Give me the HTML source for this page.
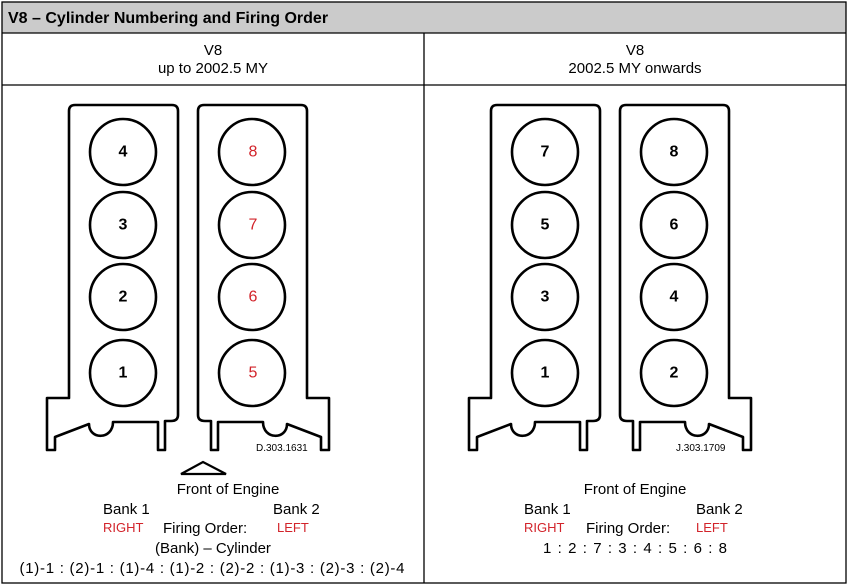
<!DOCTYPE html>
<html><head><meta charset="utf-8"><style>
html,body{margin:0;padding:0;background:#fff;}
svg{display:block;}
text{font-family:"Liberation Sans",sans-serif;}
</style></head><body>
<svg width="850" height="588" viewBox="0 0 850 588" xmlns="http://www.w3.org/2000/svg">
<defs>
<path id="bank" d="M69,398 L69,111 Q69,105 75,105 L172,105 Q178,105 178,111 L178,415 Q178,421 171,421 L165,421 L165,450 L158,450 L158,422 L113,422 C113,440 89,440 89,424 L55,437 L55,450 L47,450 L47,398 Z" fill="none" stroke="#000" stroke-width="2.6" stroke-linejoin="round"/>
<g id="engine">
<use href="#bank"/>
<use href="#bank" transform="translate(376,0) scale(-1,1)"/>
<g fill="none" stroke="#000" stroke-width="2.6">
<circle cx="123" cy="152" r="33"/><circle cx="123" cy="225" r="33"/><circle cx="123" cy="297" r="33"/><circle cx="123" cy="373" r="33"/>
<circle cx="252" cy="152" r="33"/><circle cx="252" cy="225" r="33"/><circle cx="252" cy="297" r="33"/><circle cx="252" cy="373" r="33"/>
</g>
</g>
</defs>
<rect x="2" y="2" width="844" height="31" fill="#cbcbcb"/>
<g stroke="#000" stroke-width="1.3" fill="none">
<rect x="2" y="2" width="844" height="581"/>
<line x1="2" y1="33" x2="846" y2="33"/>
<line x1="2" y1="85" x2="846" y2="85"/>
<line x1="424" y1="33" x2="424" y2="583"/>
</g>
<text x="8" y="23" font-size="16" font-weight="bold">V8 – Cylinder Numbering and Firing Order</text>
<g font-size="15" text-anchor="middle">
<text x="213" y="55">V8</text><text x="213" y="73">up to 2002.5 MY</text>
<text x="635" y="55">V8</text><text x="635" y="73">2002.5 MY onwards</text>
</g>
<use href="#engine"/>
<use href="#engine" transform="translate(422,0)"/>
<g font-size="16" text-anchor="middle" dominant-baseline="central">
<g font-weight="bold">
<text x="123" y="152">4</text><text x="123" y="225">3</text><text x="123" y="297">2</text><text x="123" y="373">1</text>
</g>
<g fill="#d2232a"><text x="253" y="152">8</text><text x="253" y="225">7</text><text x="253" y="297">6</text><text x="253" y="373">5</text></g>
<g font-weight="bold">
<text x="545" y="152">7</text><text x="545" y="225">5</text><text x="545" y="297">3</text><text x="545" y="373">1</text>
<text x="674" y="152">8</text><text x="674" y="225">6</text><text x="674" y="297">4</text><text x="674" y="373">2</text>
</g>
</g>
<text x="256" y="451" font-size="10">D.303.1631</text>
<text x="676" y="451" font-size="10">J.303.1709</text>
<path d="M181,474 L203,462 L226,474 Z" fill="none" stroke="#000" stroke-width="2.2"/>
<g font-size="15">
<text x="228" y="494" text-anchor="middle">Front of Engine</text>
<text x="103" y="514">Bank 1</text><text x="273" y="514">Bank 2</text>
<text x="103" y="532" font-size="13" fill="#d2232a">RIGHT</text>
<text x="163" y="533">Firing Order:</text>
<text x="277" y="532" font-size="13" fill="#d2232a">LEFT</text>
<text x="213" y="553" text-anchor="middle">(Bank) – Cylinder</text>
<text x="212" y="573" text-anchor="middle" textLength="385">(1)-1 : (2)-1 : (1)-4 : (1)-2 : (2)-2 : (1)-3 : (2)-3 : (2)-4</text>
<text x="635" y="494" text-anchor="middle">Front of Engine</text>
<text x="524" y="514">Bank 1</text><text x="696" y="514">Bank 2</text>
<text x="524" y="532" font-size="13" fill="#d2232a">RIGHT</text>
<text x="586" y="533">Firing Order:</text>
<text x="696" y="532" font-size="13" fill="#d2232a">LEFT</text>
<text x="635" y="553" text-anchor="middle" textLength="184">1 : 2 : 7 : 3 : 4 : 5 : 6 : 8</text>
</g>
</svg>
</body></html>
